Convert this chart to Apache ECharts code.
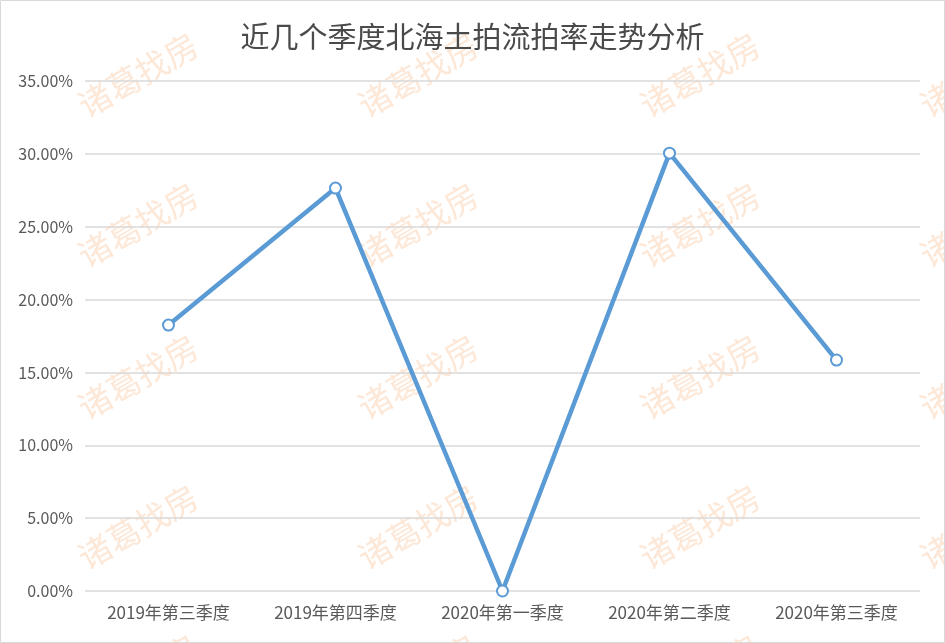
<!DOCTYPE html>
<html>
<head>
<meta charset="utf-8">
<script src="https://cdn.jsdelivr.net/npm/echarts@6/dist/echarts.min.js"></script>
<style>
html,body{margin:0;padding:0;background:#fff;}
#chart{width:945px;height:643px;}
</style>
</head>
<body>
<div id="chart"></div>
<script>
const titleText = '近几个季度北海土拍流拍率走势分析';
const categories = ['2019年第三季度', '2019年第四季度', '2020年第一季度', '2020年第二季度', '2020年第三季度'];
const rates = [18.25, 27.65, 0, 30.05, 15.85];
const watermarkText = '诸葛找房';

const chart = echarts.init(document.getElementById('chart'));

const marks = [];
const colsX = [138, 418, 700, 980];
const rowsY = [75, 225, 377, 527, 677];
colsX.forEach(function (cx) {
  rowsY.forEach(function (cy) {
    marks.push({
      type: 'text',
      x: cx, y: cy,
      rotation: Math.PI / 6,
      z: 0,
      silent: true,
      style: {
        text: watermarkText,
        fill: '#fde8d8',
        font: '33px "Noto Sans CJK SC"',
        align: 'center',
        verticalAlign: 'middle'
      }
    });
  });
});
marks.push({
  type: 'rect',
  shape: { x: 0.5, y: 0.5, width: 944, height: 642 },
  style: { fill: 'none', stroke: '#d9d9d9', lineWidth: 1 },
  silent: true,
  z: 100
});

chart.setOption({
  backgroundColor: '#fff',
  animation: false,
  title: {
    text: titleText,
    left: 'center',
    top: 17,
    textStyle: {
      fontFamily: '"Noto Sans CJK SC"',
      fontSize: 29,
      fontWeight: 'normal',
      color: '#4a4a4a'
    }
  },
  graphic: marks,
  grid: { left: 85, right: 25, top: 81, bottom: 52 },
  xAxis: {
    type: 'category',
    data: categories,
    boundaryGap: true,
    axisLine: { show: false },
    axisTick: { show: false },
    axisLabel: {
      color: '#595959',
      fontSize: 17,
      fontFamily: '"Noto Sans CJK SC"',
      margin: 13
    }
  },
  yAxis: {
    type: 'value',
    min: 0,
    max: 35,
    interval: 5,
    axisLine: { show: false },
    axisTick: { show: false },
    splitLine: { lineStyle: { color: '#d9d9d9', width: 1.5 } },
    axisLabel: {
      color: '#595959',
      fontSize: 16,
      fontFamily: '"Noto Sans CJK SC"',
      margin: 12,
      formatter: function (v) { return v.toFixed(2) + '%'; }
    }
  },
  series: [{
    type: 'line',
    data: rates,
    symbol: 'circle',
    symbolSize: 11,
    z: 5,
    lineStyle: { color: '#5b9bd5', width: 4.5 },
    itemStyle: { color: '#ffffff', borderColor: '#5b9bd5', borderWidth: 2 }
  }]
});
</script>
</body>
</html>
